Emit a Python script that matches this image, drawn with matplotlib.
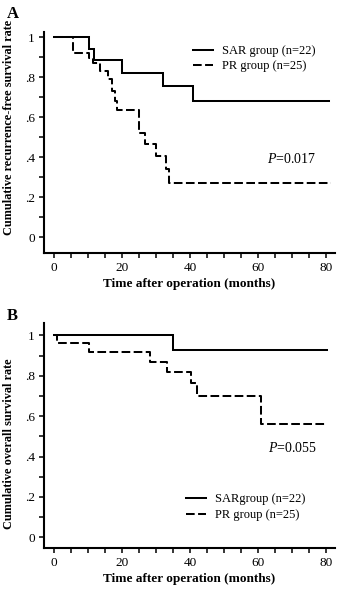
import matplotlib
matplotlib.use("Agg")
import matplotlib.pyplot as plt
from matplotlib.ticker import MultipleLocator, FixedLocator, FixedFormatter

plt.rcParams['font.family'] = ['Liberation Serif', 'DejaVu Serif']
plt.rcParams['mathtext.fontset'] = 'custom'
plt.rcParams['mathtext.rm'] = 'Liberation Serif'
plt.rcParams['mathtext.it'] = 'Liberation Serif:italic'

# ---- data ----
a_sar_t = [0, 10.4, 11.9, 19.9, 32.0, 40.8]
a_sar_s = [1.0, 0.94, 0.885, 0.82, 0.756, 0.683]
a_sar_end = 80.7
a_pr_t = [0, 5.7, 10.4, 11.5, 13.5, 16.0, 17.0, 18.0, 18.6, 25.1, 26.8, 30.0, 32.9, 33.7]
a_pr_s = [1.0, 0.92, 0.895, 0.87, 0.83, 0.79, 0.73, 0.68, 0.637, 0.52, 0.465, 0.407, 0.34, 0.27]
a_pr_end = 81.5

b_sar_t = [0, 35.1]
b_sar_s = [1.0, 0.93]
b_sar_end = 80.3
b_pr_t = [0, 1.0, 10.4, 28.2, 33.1, 40.2, 41.9, 60.8]
b_pr_s = [1.0, 0.963, 0.919, 0.866, 0.82, 0.765, 0.70, 0.561]
b_pr_end = 80.3

ytick_vals = [0, 0.2, 0.4, 0.6, 0.8, 1.0]
ytick_labels = ['0', '.2', '.4', '.6', '.8', '1']
xtick_vals = [0, 20, 40, 60, 80]
xtick_labels = ['0', '20', '40', '60', '80']

a_labels = ['SAR group (n=22)', 'PR group (n=25)']
b_labels = ['SARgroup (n=22)', 'PR group (n=25)']

W, H = 342, 592
fig = plt.figure(figsize=(W / 100, H / 100), dpi=100)

def px_axes(left, top, right, bottom):
    return fig.add_axes([left / W, 1 - bottom / H, (right - left) / W, (bottom - top) / H])

axA = px_axes(44, 31.7, 335, 253)
axB = px_axes(44, 323.3, 335, 548.3)

lw = 1.45
dash = (4.3, 1.7)

def draw(ax, st, ss, send, pt, ps, pend):
    l1, = ax.step(list(st) + [send], list(ss) + [ss[-1]], where='post',
                  color='black', lw=lw, solid_joinstyle='miter')
    l2, = ax.step(list(pt) + [pend], list(ps) + [ps[-1]], where='post',
                  color='black', lw=lw, dashes=dash, dash_capstyle='butt')
    return l1, l2

def style(ax, ylim):
    ax.set_xlim(-2.94, 82.6)
    ax.set_ylim(*ylim)
    for s in ['top', 'right']:
        ax.spines[s].set_visible(False)
    for s in ['left', 'bottom']:
        ax.spines[s].set_linewidth(1.5)
    ax.xaxis.set_major_locator(FixedLocator(xtick_vals))
    ax.xaxis.set_major_formatter(FixedFormatter(xtick_labels))
    ax.xaxis.set_minor_locator(MultipleLocator(5))
    ax.yaxis.set_major_locator(FixedLocator(ytick_vals))
    ax.yaxis.set_major_formatter(FixedFormatter(ytick_labels))
    ax.yaxis.set_minor_locator(FixedLocator([0.1, 0.3, 0.5, 0.7, 0.9]))
    ax.tick_params(which='both', direction='out', length=3.5, width=1.1,
                   labelsize=9.5, pad=3)
    ax.set_xlabel('Time after operation (months)', fontsize=9.5,
                  fontweight='bold', labelpad=3)

# Panel A
lA = draw(axA, a_sar_t, a_sar_s, a_sar_end, a_pr_t, a_pr_s, a_pr_end)
style(axA, (-0.078, 1.028))
axA.set_ylabel('Cumulative recurrence-free survival rate', fontsize=8.8, fontweight='bold')
axA.yaxis.set_label_coords(-0.099, 0.566)
axA.text(62.6, 0.39, r'$\mathit{P}$=0.017', fontsize=10, va='center', ha='left')
axA.legend(lA, a_labels, loc='upper left', bbox_to_anchor=(193 / W, 1 - 45 / H),
           bbox_transform=fig.transFigure, frameon=False, fontsize=9,
           handlelength=1.6, handletextpad=0.7, borderpad=0, borderaxespad=0,
           labelspacing=0.25)
fig.text(7 / W, 1 - 18 / H, 'A', fontsize=12, fontweight='bold', ha='left', va='baseline')

# Panel B
lB = draw(axB, b_sar_t, b_sar_s, b_sar_end, b_pr_t, b_pr_s, b_pr_end)
style(axB, (-0.054, 1.06))
axB.set_ylabel('Cumulative overall survival rate', fontsize=8.8, fontweight='bold')
axB.yaxis.set_label_coords(-0.099, 0.467)
axB.text(63, 0.442, r'$\mathit{P}$=0.055', fontsize=10, va='center', ha='left')
axB.legend(lB, b_labels, loc='upper left', bbox_to_anchor=(186 / W, 1 - 493 / H),
           bbox_transform=fig.transFigure, frameon=False, fontsize=9,
           handlelength=1.6, handletextpad=0.7, borderpad=0, borderaxespad=0,
           labelspacing=0.32)
fig.text(7 / W, 1 - 320 / H, 'B', fontsize=12, fontweight='bold', ha='left', va='baseline')

fig.savefig('out.png', dpi=100)
